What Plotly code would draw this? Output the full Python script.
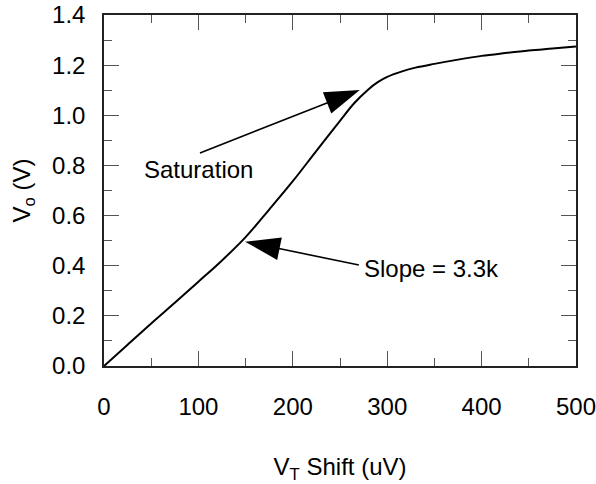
import plotly.graph_objects as go

# Data
vt_shift = [0, 25, 50, 75, 100, 125, 150, 175, 200, 225, 250, 265, 280, 290,
            300, 315, 330, 350, 375, 400, 425, 450, 475, 500]
vo = [0, 0.085, 0.17, 0.252, 0.336, 0.421, 0.514, 0.624, 0.737, 0.858, 0.978,
      1.048, 1.103, 1.132, 1.153, 1.174, 1.19, 1.205, 1.222, 1.237, 1.248,
      1.258, 1.266, 1.274]

x_ticks = [0, 100, 200, 300, 400, 500]
y_ticks = [0.0, 0.2, 0.4, 0.6, 0.8, 1.0, 1.2, 1.4]
y_tick_labels = ["0.0", "0.2", "0.4", "0.6", "0.8", "1.0", "1.2", "1.4"]

# Annotation arrows: (tail, tip) in data units
sat_arrow_x = [101.7, 271.0]
sat_arrow_y = [0.85, 1.101]
slope_arrow_x = [270.0, 149.4]
slope_arrow_y = [0.403, 0.496]
sat_label = ("Saturation", 100.6, 0.782)
slope_label = ("Slope = 3.3k", 273.0, 0.39)

FONT = "Liberation Sans"
FS = 24

fig = go.Figure()
fig.add_trace(go.Scatter(x=vt_shift, y=vo, mode="lines",
                         line=dict(color="black", width=2, shape="spline", smoothing=1.0),
                         hoverinfo="skip", showlegend=False))

for ax_, ay_ in [(sat_arrow_x, sat_arrow_y), (slope_arrow_x, slope_arrow_y)]:
    fig.add_trace(go.Scatter(x=ax_, y=ay_, mode="lines+markers",
                             line=dict(color="black", width=1.6),
                             marker=dict(symbol="arrow", size=[0, 37], angleref="previous",
                                         color="black", opacity=1, line=dict(width=0)),
                             hoverinfo="skip", showlegend=False))

for txt, x, y in [sat_label]:
    fig.add_annotation(x=x, y=y, text=txt, showarrow=False, xanchor="center",
                       yanchor="middle", font=dict(family=FONT, size=FS, color="black"))
for txt, x, y in [slope_label]:
    fig.add_annotation(x=x, y=y, text=txt, showarrow=False, xanchor="left",
                       yanchor="middle", font=dict(family=FONT, size=FS, color="black"))

axis_common = dict(showgrid=False, zeroline=False, showline=True, linecolor="#222",
                   linewidth=1.5, mirror="ticks", ticks="inside", tickcolor="#555",
                   tickwidth=1.2, ticklen=15, automargin=False,
                   ticklabeloverflow="allow",
                   tickfont=dict(family=FONT, size=FS, color="black"))

fig.update_xaxes(range=[0, 500], tickvals=x_ticks, ticktext=[str(v) for v in x_ticks],
                 minor=dict(ticks="inside", ticklen=8, dtick=50, tickcolor="#555", tickwidth=1.2),
                 ticklabelstandoff=18,
                 title=dict(text="V<sub>T</sub> Shift (uV)", font=dict(family=FONT, size=FS, color="black"),
                            standoff=42),
                 **axis_common)
fig.update_yaxes(range=[0, 1.4], tickvals=y_ticks, ticktext=y_tick_labels,
                 minor=dict(ticks="inside", ticklen=8, dtick=0.1, tickcolor="#555", tickwidth=1.2),
                 ticklabelstandoff=12,
                 title=dict(text="V<sub>o</sub> (V)", font=dict(family=FONT, size=FS, color="black")),
                 **axis_common)

fig.update_layout(width=596, height=484, margin=dict(l=104, r=20, t=15, b=118),
                  plot_bgcolor="white", paper_bgcolor="white", showlegend=False)

fig.write_html("out.html")
